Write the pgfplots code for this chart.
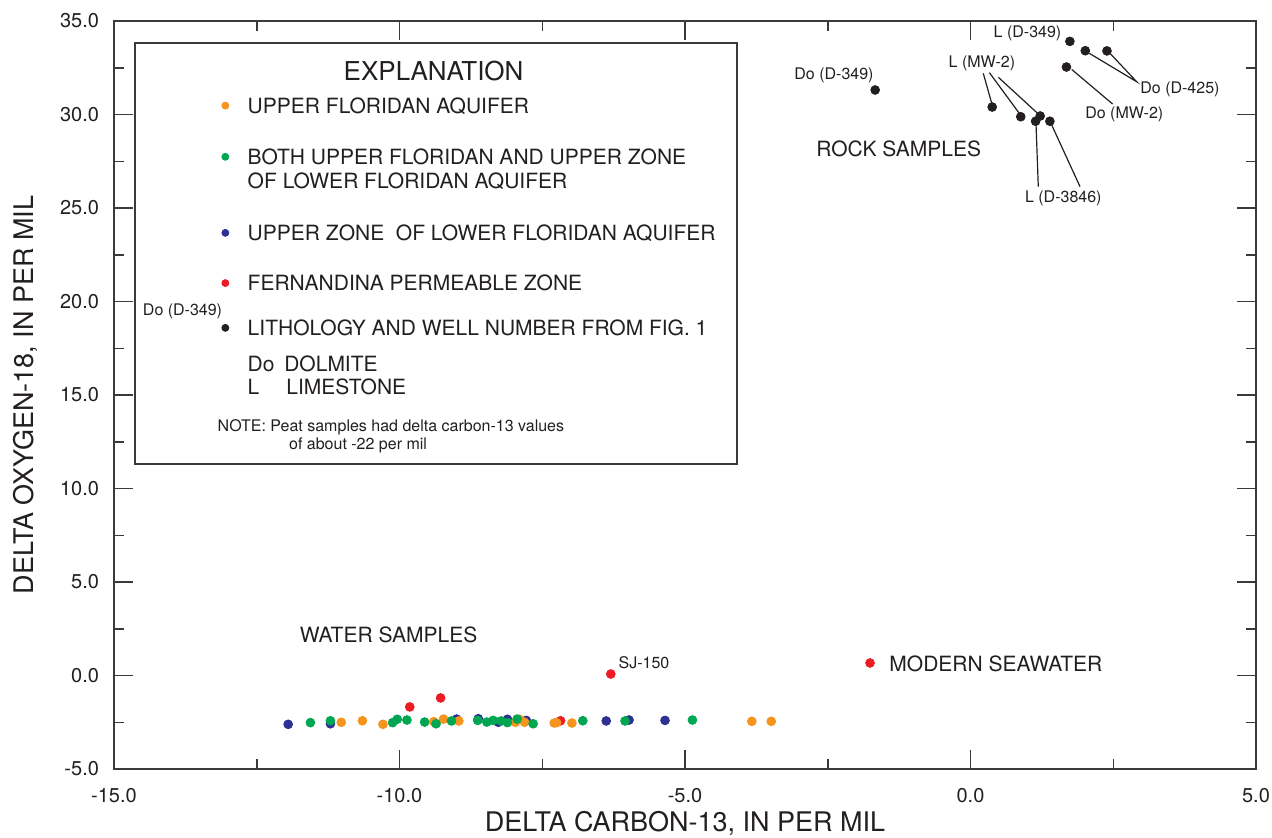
\documentclass[border=0pt]{standalone}
\usepackage{fontspec}
\setmainfont{TeX Gyre Heros}
\usepackage{pgfplots}
\pgfplotsset{compat=1.18}
\definecolor{cOr}{HTML}{F7941D}
\definecolor{cGr}{HTML}{00A651}
\definecolor{cBl}{HTML}{2E3192}
\definecolor{cRe}{HTML}{ED1C24}
\definecolor{cBk}{HTML}{231F20}
\definecolor{txt}{HTML}{231F20}
\definecolor{axcol}{HTML}{3A3A3A}
\newcommand{\st}[1]{\rule[-2.5pt]{0pt}{\dimexpr#1+2.5pt\relax}}
\newcommand{\smf}{\fontsize{8}{9.6}\selectfont}
\newcommand{\lgf}{\fontsize{10.5}{12.6}\selectfont}
\begin{document}
\begin{tikzpicture}
\begin{axis}[
  name=ax, at={(0,0)}, anchor=south west,
  scale only axis, width=571pt, height=374pt,
  xmin=-15, xmax=5, ymin=-5, ymax=35,
  xtick={-15,-10,-5,0,5}, ytick={-5,0,5,10,15,20,25,30,35},
  minor x tick num=1, minor y tick num=1,
  tick align=inside, major tick length=9.5pt, minor tick length=5pt,
  axis line style={line width=0.75pt, color=axcol},
  every tick/.style={line width=0.75pt, color=axcol},
  ticklabel style={font=\fontsize{10}{12}\selectfont, text=txt},
  xticklabel style={yshift=-6pt},
  yticklabel style={xshift=-4pt},
  /pgf/number format/fixed, /pgf/number format/fixed zerofill,
  /pgf/number format/precision=1, /pgf/number format/assume math mode=true,
  legend style={draw=none, fill=none,
    at={(axis description cs:0.0884,0.9532)}, anchor=north west,
    inner sep=0pt, outer sep=0pt, row sep=0pt, column sep=5pt,
    nodes={inner sep=0pt, outer sep=0pt, text=txt},
    cells={anchor=base west}, font=\lgf},
  dot/.style={only marks, mark=*, mark size=2.2pt, forget plot},
  clip=false,
]
% legend box
\draw[line width=0.6pt, color=axcol] (axis cs:-14.632,33.82) rectangle (axis cs:-4.089,11.31);

% data
\addplot[dot, color=cBl] table {
x y
-11.95 -2.61
-11.21 -2.58
-9.00 -2.33
-8.62 -2.31
-8.27 -2.50
-8.11 -2.34
-7.78 -2.40
-6.38 -2.43
-5.98 -2.38
-5.35 -2.40
};
\addplot[dot, color=cRe] table {
x y
-9.82 -1.68
-9.28 -1.20
-7.18 -2.42
-6.30 0.08
-1.76 0.67
};
\addplot[dot, color=cOr] table {
x y
-11.02 -2.50
-10.65 -2.42
-10.29 -2.61
-9.40 -2.47
-9.23 -2.33
-8.96 -2.43
-7.97 -2.50
-7.90 -2.34
-7.81 -2.50
-7.29 -2.54
-7.25 -2.52
-6.98 -2.54
-3.83 -2.45
-3.49 -2.45
};
\addplot[dot, color=cGr] table {
x y
-11.56 -2.52
-11.21 -2.42
-10.12 -2.52
-10.04 -2.34
-9.87 -2.38
-9.56 -2.49
-9.36 -2.58
-9.09 -2.43
-8.63 -2.40
-8.47 -2.49
-8.36 -2.40
-8.22 -2.43
-8.11 -2.52
-7.94 -2.33
-7.66 -2.58
-6.79 -2.42
-6.05 -2.43
-4.87 -2.38
};
\addplot[dot, color=cBk] table {
x y
1.74 33.91
2.01 33.41
2.39 33.40
1.68 32.54
0.38 30.40
0.88 29.88
1.22 29.92
1.14 29.64
1.39 29.64
-1.67 31.31
};

% leader lines
\begin{scope}[line width=0.6pt, color=cBk]
\draw (axis cs:0.224,32.20) -- (axis cs:0.371,30.60);
\draw (axis cs:0.330,32.24) -- (axis cs:0.855,30.06);
\draw (axis cs:0.487,31.99) -- (axis cs:1.187,30.03);
\draw (axis cs:2.081,33.27) -- (axis cs:2.911,31.75) -- (axis cs:2.443,33.27);
\draw (axis cs:2.489,30.56) -- (axis cs:1.772,32.41);
\draw (axis cs:1.187,26.14) -- (axis cs:1.147,29.52);
\draw (axis cs:1.918,26.14) -- (axis cs:1.422,29.44);
\end{scope}

% labels
\begin{scope}[every node/.style={text=txt, inner sep=0pt}]
\node[font=\smf] at (axis cs:-2.391,32.11) {Do (D-349)};
\node[font=\smf] at (axis cs:0.998,34.34) {L (D-349)};
\node[font=\smf] at (axis cs:0.200,32.72) {L (MW-2)};
\node[font=\smf, anchor=west] at (axis cs:2.968,31.36) {Do (D-425)};
\node[font=\smf] at (axis cs:2.693,30.03) {Do (MW-2)};
\node[font=\smf] at (axis cs:1.625,25.51) {L (D-3846)};
\node[font=\smf] at (axis cs:-13.80,19.45) {Do (D-349)};
\node[font=\smf] at (axis cs:-5.718,0.668) {SJ-150};
\node[font=\lgf] at (axis cs:-1.256,28.16) {ROCK SAMPLES};
\node[font=\lgf] at (axis cs:-10.19,2.17) {WATER SAMPLES};
\node[font=\lgf, anchor=west] at (axis cs:-1.427,0.615) {MODERN SEAWATER};
\end{scope}

% legend
\addlegendimage{legend image code/.code={\path (-5pt,0pt) (6pt,0pt);}}
\addlegendentry{\st{12pt}\hspace*{48pt}{\fontsize{13}{15}\selectfont EXPLANATION}}
\addlegendimage{legend image code/.code={\path (-5pt,0pt) (6pt,0pt); \fill[cOr] (0pt,3.7pt) circle (1.75pt);}}
\addlegendentry{\st{15pt}UPPER FLORIDAN AQUIFER}
\addlegendimage{legend image code/.code={\path (-5pt,0pt) (6pt,0pt); \fill[cGr] (0pt,3.7pt) circle (1.75pt);}}
\addlegendentry{\st{24.1pt}BOTH UPPER FLORIDAN AND UPPER ZONE}
\addlegendimage{legend image code/.code={\path (-5pt,0pt) (6pt,0pt);}}
\addlegendentry{\st{10.63pt}OF LOWER FLORIDAN AQUIFER}
\addlegendimage{legend image code/.code={\path (-5pt,0pt) (6pt,0pt); \fill[cBl] (0pt,3.7pt) circle (1.75pt);}}
\addlegendentry{\st{24.4pt}UPPER ZONE\ \ OF LOWER FLORIDAN AQUIFER}
\addlegendimage{legend image code/.code={\path (-5pt,0pt) (6pt,0pt); \fill[cRe] (0pt,3.7pt) circle (1.75pt);}}
\addlegendentry{\st{23.6pt}FERNANDINA PERMEABLE ZONE}
\addlegendimage{legend image code/.code={\path (-5pt,0pt) (6pt,0pt); \fill[cBk] (0pt,3.7pt) circle (1.75pt);}}
\addlegendentry{\st{20.9pt}LITHOLOGY AND WELL NUMBER FROM FIG. 1}
\addlegendimage{legend image code/.code={\path (-5pt,0pt) (6pt,0pt);}}
\addlegendentry{\st{16.6pt}\makebox[18.3pt][l]{Do}DOLMITE}
\addlegendimage{legend image code/.code={\path (-5pt,0pt) (6pt,0pt);}}
\addlegendentry{\st{10.1pt}\makebox[19.3pt][l]{L}LIMESTONE}
\addlegendimage{legend image code/.code={\path (-5pt,0pt) (6pt,0pt);}}
\addlegendentry{\st{17.1pt}{\smf\hspace*{-15pt}NOTE: Peat samples had delta carbon-13 values}}
\addlegendimage{legend image code/.code={\path (-5pt,0pt) (6pt,0pt);}}
\addlegendentry{\st{7.2pt}{\smf\hspace*{20.7pt}of about -22 per mil}}
\end{axis}
\node[anchor=base, text=txt, font=\fontsize{13.5}{16}\selectfont] at ([yshift=-31.3pt]ax.south) {DELTA CARBON-13, IN PER MIL};
\node[anchor=base, rotate=90, text=txt, font=\fontsize{13.5}{16}\selectfont] at ([xshift=-40.3pt]ax.west) {DELTA OXYGEN-18, IN PER MIL};
\pgfresetboundingbox
\path[use as bounding box] ([xshift=-57pt,yshift=-34pt]ax.south west) rectangle ([xshift=8pt,yshift=10.5pt]ax.north east);
\end{tikzpicture}
\end{document}
